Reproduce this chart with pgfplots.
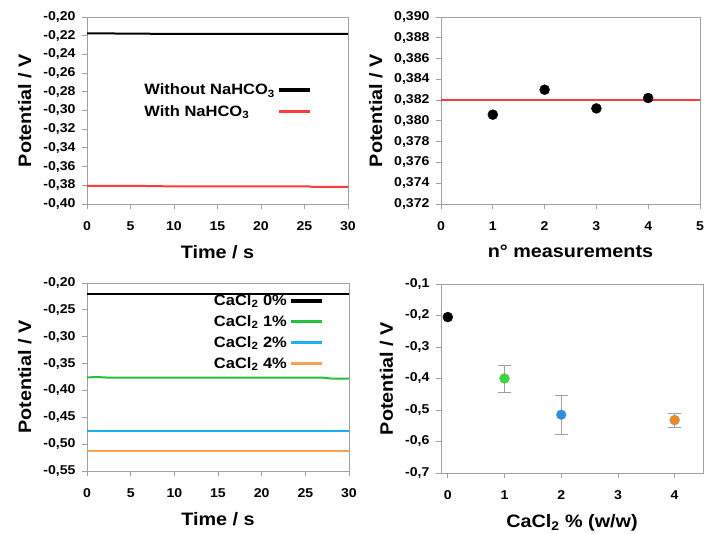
\documentclass[border=0pt]{standalone}
\usepackage{pgfplots}
\pgfplotsset{compat=1.18}
\usepackage{fontspec}
\setmainfont{Liberation Sans}[FakeStretch=1.1]
\definecolor{axgray}{HTML}{A0A0A0}
\definecolor{lred}{HTML}{FF3B3B}
\definecolor{lgreen}{HTML}{22C33A}
\definecolor{lblue}{HTML}{1AB0F0}
\definecolor{lorange}{HTML}{FFA050}
\definecolor{mgreen}{HTML}{33DD33}
\definecolor{mblue}{HTML}{2A8FE0}
\definecolor{morange}{HTML}{F08A20}
\pgfplotsset{
  myax/.style={
    scale only axis,
    anchor=south west,
    axis line style={axgray, line width=0.8pt},
    tick style={axgray, line width=0.8pt},
    tick align=outside,
    major tick length=5pt,
    xtick pos=left, ytick pos=left,
    tick label style={font=\fontsize{12.8}{15}\selectfont\bfseries},
    xticklabel style={yshift=-9pt},
    yticklabel style={xshift=-3pt},
    label style={font=\fontsize{18}{20}\selectfont\bfseries},
    xlabel style={yshift=-8pt},
    ylabel style={yshift=5pt},
    /pgf/number format/assume math mode=true,
    /pgf/number format/use comma,
    ylabel={Potential / V},
    clip=false,
  },
  legend image code/.code={\draw[#1, line width=3.5pt] (0pt,0pt) -- (31pt,0pt);},
}
\begin{document}
\begin{tikzpicture}
\useasboundingbox (0,0) rectangle (707pt,534pt);
% Panel 1
\begin{axis}[myax, at={(87pt,330pt)}, width=261pt, height=187pt,
  xmin=0, xmax=30, xtick={0,5,...,30},
  ymin=-0.40, ymax=-0.20, ytick={-0.40,-0.38,...,-0.19},
  yticklabel style={/pgf/number format/.cd, fixed, fixed zerofill, precision=2},
  xlabel={Time / s},
  legend style={draw=none, fill=none, at={(0.2,0.665)}, anchor=north west,
    font=\fontsize{15}{17}\selectfont\bfseries, row sep=5pt},
  legend cell align=left, legend plot pos=right]
\addplot[black, line width=2pt] coordinates {(0,-0.2175) (6,-0.2178) (8,-0.218) (30,-0.218)};
\addlegendentry{Without NaHCO\textsubscript{3}}
\addplot[lred, line width=2pt] coordinates {(0,-0.3806) (8.5,-0.3808) (9,-0.3812) (25.5,-0.3812) (26,-0.3818) (30,-0.3818)};
\addlegendentry{With NaHCO\textsubscript{3}}
\end{axis}
% Panel 2
\begin{axis}[myax, at={(441pt,330pt)}, width=259pt, height=187pt,
  xmin=0, xmax=5, xtick={0,1,...,5},
  ymin=0.372, ymax=0.390, ytick={0.372,0.374,...,0.3905},
  yticklabel style={/pgf/number format/.cd, fixed, fixed zerofill, precision=3},
  xlabel={n° measurements}]
\addplot[lred, line width=2pt] coordinates {(0,0.382) (5,0.382)};
\addplot[only marks, mark=*, mark size=5pt, black] coordinates {(1,0.3806) (2,0.3830) (3,0.3812) (4,0.3822)};
\end{axis}
% Panel 3
\begin{axis}[myax, at={(87pt,63pt)}, width=262pt, height=188pt,
  xmin=0, xmax=30, xtick={0,5,...,30},
  ymin=-0.55, ymax=-0.20, ytick={-0.55,-0.50,...,-0.19},
  yticklabel style={/pgf/number format/.cd, fixed, fixed zerofill, precision=2},
  xlabel={Time / s},
  legend style={draw=none, fill=none, at={(0.903,0.95)}, anchor=north east,
    font=\fontsize{15}{17}\selectfont\bfseries, row sep=4.5pt, inner sep=0pt,
    /tikz/every even column/.append style={column sep=0pt}},
  legend cell align=right, legend plot pos=right]
\addplot[black, line width=2pt] coordinates {(0,-0.22) (30,-0.22)};
\addlegendentry{CaCl\textsubscript{2} 0\%}
\addplot[lgreen, line width=2pt] coordinates {(0,-0.376) (1,-0.375) (2.5,-0.3762) (27,-0.3762) (28,-0.378) (30,-0.378)};
\addlegendentry{CaCl\textsubscript{2} 1\%}
\addplot[lblue, line width=2pt] coordinates {(0,-0.475) (30,-0.475)};
\addlegendentry{CaCl\textsubscript{2} 2\%}
\addplot[lorange, line width=2pt] coordinates {(0,-0.512) (30,-0.512)};
\addlegendentry{CaCl\textsubscript{2} 4\%}
\end{axis}
% Panel 4
\begin{axis}[myax, at={(441pt,61pt)}, width=262pt, height=189pt,
  xmin=-0.12, xmax=4.5, xtick={0,1,2,3,4},
  ymin=-0.7, ymax=-0.1, ytick={-0.7,-0.6,...,-0.05},
  yticklabel style={/pgf/number format/.cd, fixed, fixed zerofill, precision=1},
  xlabel={CaCl\textsubscript{2} \% (w/w)},
  error bars/error bar style={axgray, line width=1pt},
  error bars/error mark options={axgray, rotate=90, mark size=6.5pt, line width=1pt}]
\addplot[only marks, mark=*, mark size=5pt, black] coordinates {(0,-0.205)};
\addplot[only marks, mark=*, mark size=5pt, mark options={fill=mgreen, draw=black!40}, error bars/.cd, y dir=both, y explicit]
  coordinates {(1,-0.400) += (0,0.040) -= (0,0.043)};
\addplot[only marks, mark=*, mark size=5pt, mark options={fill=mblue, draw=black!40}, error bars/.cd, y dir=both, y explicit]
  coordinates {(2,-0.515) += (0,0.060) -= (0,0.063)};
\addplot[only marks, mark=*, mark size=5pt, mark options={fill=morange, draw=black!40}, error bars/.cd, y dir=both, y explicit]
  coordinates {(4,-0.532) += (0,0.022) -= (0,0.023)};
\end{axis}
\end{tikzpicture}
\end{document}
